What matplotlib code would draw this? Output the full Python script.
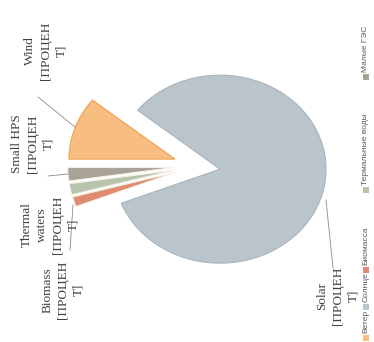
import matplotlib.pyplot as plt

# data (shares of renewable sources)
legend_names = ['Ветер', 'Солнце', 'Биомасса', 'Термальные воды', 'Малые ГЭС']
label_names = ['Wind', 'Solar', 'Biomass', 'Thermal\nwaters', 'Small HPS']
shares = [10.8, 83.3, 1.7, 1.9, 2.3]
colors = ['#F8BD80', '#B9C4CB', '#E08B6F', '#B8C3AB', '#A8A195']
edge_colors = ['#EFA24E', '#A9B4BB', '#F4F0E6', '#F4F0E6', '#F4F0E6']

W, H = 374, 342
fig = plt.figure(figsize=(W / 100, H / 100), dpi=100)

# pie axes: chart is drawn rotated by 90 degrees, slightly stretched horizontally
ax = fig.add_axes([0, 0, 1, 1])
wedges, _ = ax.pie(shares, colors=colors, startangle=180, counterclock=False,
                   explode=[0.22] * len(shares), radius=1,
                   wedgeprops=dict(linewidth=0.8))
for w, ec in zip(wedges, edge_colors):
    w.set_edgecolor(ec)
ax.set_aspect('auto')
cx, cy, rx, ry = 197, 166, 106, 94
ax.set_xlim(-cx / rx, (W - cx) / rx)
ax.set_ylim(-(H - cy) / ry, cy / ry)
ax.axis('off')

# overlay in pixel coordinates for labels and legend
ov = fig.add_axes([0, 0, 1, 1])
ov.set_xlim(0, W)
ov.set_ylim(H, 0)
ov.axis('off')

label_pos = [(46, 51), (338, 296), (63, 290), (50, 225), (33, 144)]
for name, (x, y) in zip(label_names, label_pos):
    ov.text(x, y, name + '\n[ПРОЦЕН\nТ]', rotation=90, ha='center', va='center',
            family='Liberation Serif', fontsize=9.5, color='#404040',
            linespacing=1.4, multialignment='center')

# leader lines
leaders = [((38, 97), (75, 127)), ((326, 200), (333, 268)),
           ((73, 205), (70, 250)), ((48, 176), (68, 174))]
for (x0, y0), (x1, y1) in leaders:
    ov.plot([x0, x1], [y0, y1], color='#8C8C8C', lw=0.6)

# legend, rotated like the chart
leg_marker_y = [338, 307, 270, 190, 77]
for name, col, my in zip(legend_names, colors, leg_marker_y):
    ov.add_patch(plt.Rectangle((363, my - 3), 6, 6, color=col, lw=0))
    ov.text(366, my - 5, name, rotation=90, ha='center', va='bottom',
            family='Liberation Sans', fontsize=6, color='#595959')

fig.savefig('out.png', dpi=100)
